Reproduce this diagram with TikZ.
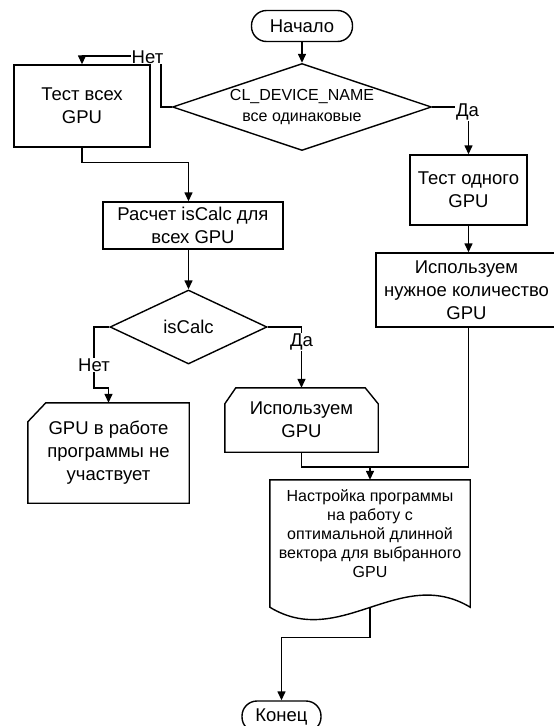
\documentclass[tikz,border=0pt]{standalone}
\usepackage{fontspec}
\setmainfont{Liberation Sans}
\usetikzlibrary{arrows.meta,calc,shapes.geometric}
\begin{document}
\begin{tikzpicture}[x=1pt,y=-1pt,
  every node/.style={font=\fontsize{18.5}{23}\selectfont, inner sep=0pt, align=center},
  flow/.style={line width=1.4pt, -{Triangle[length=9pt,width=8pt]}},
  plain/.style={line width=1.4pt},
  term/.style={draw, line width=1.4pt, rounded corners=15pt, minimum height=31pt},
  procbox/.style={draw, line width=1.4pt},
  decision/.style={draw, diamond, line width=1.4pt, inner sep=0pt},
  lbl/.style={fill=white, inner sep=1pt},
  smalltxt/.style={font=\fontsize{16}{19}\selectfont}
]
\useasboundingbox (0,0) rectangle (554,726);

% nodes
\node[term, minimum width=101pt] (start) at (302,26) {Начало};
\node[decision, minimum width=259pt, minimum height=87pt,
  label={[font=\fontsize{16}{21}\selectfont]center:CL\_DEVICE\_NAME\\все одинаковые}] (d1) at (302,107) {};
\node[procbox, minimum width=136pt, minimum height=82pt] (box1) at (82,106) {Тест всех\\GPU};
\node[procbox, minimum width=180pt, minimum height=47pt] (box2) at (193,225.5) {Расчет isCalc для\\всех GPU};
\node[decision, minimum width=157pt, minimum height=74pt,
  label={center:isCalc}] (d2) at (188.5,327) {};
\node[minimum width=161pt, minimum height=100pt] (b3) at (108.5,453) {GPU в работе\\программы не\\участвует};
\draw[plain] ($(b3.north west)+(0,19)$) -- ($(b3.north west)+(18,0)$) -- (b3.north east)
  -- (b3.south east) -- (b3.south west) -- cycle;
\node[minimum width=153pt, minimum height=64pt] (b4) at (301.5,420) {Используем\\GPU};
\draw[plain] ($(b4.north west)+(0,16)$) -- ($(b4.north west)+(11,0)$) -- ($(b4.north east)+(-13,0)$)
  -- ($(b4.north east)+(0,16)$) -- (b4.south east) -- (b4.south west) -- cycle;
\node[procbox, minimum width=117pt, minimum height=70pt] (t1) at (468.5,190) {Тест одного\\GPU};
\node[procbox, minimum width=181pt, minimum height=74pt] (use) at (466.5,290) {Используем\\нужное количество\\GPU};
\node[minimum width=200pt, minimum height=127pt] (doc) at (370,543.5) {};
\draw[plain] (doc.north west) -- (doc.north east) -- (doc.south east)
  .. controls (400,565) and (340,650) .. (doc.south west) -- cycle;
\node[smalltxt] (doctext) at (370,534) {Настройка программы\\на работу с\\оптимальной длинной\\вектора для выбранного\\GPU};
\node[term, minimum width=79pt] (end) at (281.5,716.5) {Конец};

% helper coordinates
\coordinate (n1) at (161,56);
\coordinate (n2) at (94,388);
\coordinate (j) at (370,467);

% connectors
\draw[flow] (start) -- (d1);
\draw[flow] (d1.west) -| (n1) -| (box1.north);
\draw[flow] (box1.south) -- ++(0,15) -| (d2.north |- box2.north);
\draw[flow] (d2.north |- box2.south) -- (d2.north);
\draw[flow] (d2.west) -| (n2) -| (b3.north);
\draw[flow] (d2.east) -| (b4.north);
\draw[flow] (d1.east) -| (t1.north);
\draw[flow] (t1.south) -- (t1.south |- use.north);
\draw[plain] (b4.south) |- (j);
\draw[flow] (t1.south |- use.south) |- (j) -- (doc.north);
\draw[flow] (doc.south) -- ++(0,30) -| (end.north);

% branch labels
\node[lbl] (l1) at (147.5,57) {Нет};
\node[lbl] (l2) at (467.5,112) {Да};
\node[lbl] (l3) at (94,365) {Нет};
\node[lbl] (l4) at (301.5,342) {Да};
\end{tikzpicture}
\end{document}
